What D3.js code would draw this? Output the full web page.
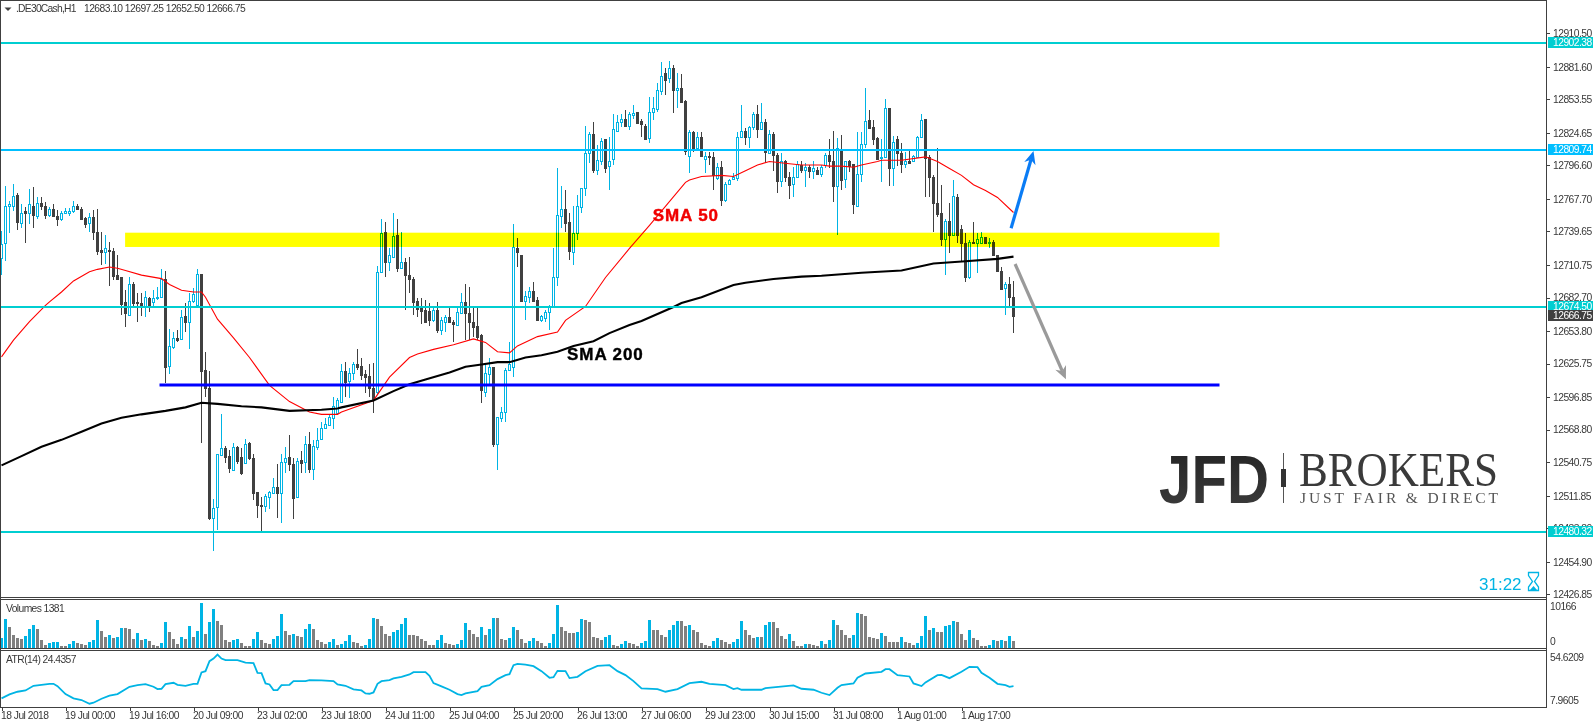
<!DOCTYPE html>
<html><head><meta charset="utf-8">
<style>html,body{margin:0;padding:0;background:#fff;overflow:hidden}svg{display:block;font-family:"Liberation Sans",Arial,sans-serif}</style>
<script src="https://cdn.jsdelivr.net/npm/d3@7/dist/d3.min.js"></script></head><body><svg id="c" width="1593" height="727"></svg>
<script>
const open_=[12717,12730,12762,12762,12771,12747,12757,12756,12762,12753,
12764,12762,12754,12759,12753,12750,12756,12756,12757,12762,
12759,12751,12747,12752,12739,12724,12722,12724,12723,12702,
12700,12679,12668,12694,12679,12678,12675,12682,12679,12682,
12683,12699,12624,12640,12648,12647,12667,12662,12680,12676,
12703,12620,12605,12493,12502,12547,12553,12546,12534,12554,
12545,12540,12557,12544,12515,12504,12503,12511,12514,12519,
12514,12541,12545,12539,12511,12543,12541,12556,12535,12554,
12561,12570,12573,12579,12583,12593,12619,12611,12618,12625,
12624,12617,12615,12605,12601,12705,12739,12713,12718,12737,
12708,12713,12702,12699,12680,12674,12672,12671,12663,12672,
12655,12662,12666,12662,12659,12669,12679,12669,12662,12658,
12650,12601,12617,12623,12556,12579,12584,12620,12623,12725,
12719,12680,12683,12688,12681,12663,12665,12670,12675,12700,
12753,12759,12748,12722,12738,12761,12777,12807,12824,12793,
12800,12819,12796,12802,12826,12834,12837,12831,12840,12843,
12835,12831,12820,12843,12845,12861,12876,12872,12881,12862,
12863,12852,12805,12825,12812,12821,12802,12805,12804,12786,
12795,12767,12781,12785,12786,12821,12826,12821,12830,12841,
12828,12834,12807,12824,12806,12783,12800,12787,12781,12787,
12797,12793,12795,12792,12793,12789,12797,12806,12800,12779,
12809,12785,12800,12798,12762,12789,12815,12836,12830,12820,
12803,12804,12846,12794,12819,12807,12798,12800,12800,12804,
12821,12837,12804,12787,12764,12756,12733,12749,12737,12769,
12742,12730,12700,12731,12730,12730,12735,12730,12731,12719,
12706,12691,12694,12683.1];
const high=[12740,12779,12766,12781,12773,12763,12761,12776,12778,12769,
12769,12765,12761,12763,12758,12757,12760,12760,12766,12763,
12761,12752,12756,12758,12759,12739,12737,12731,12725,12719,
12700,12689,12700,12696,12687,12687,12688,12683,12689,12692,
12707,12706,12656,12653,12655,12672,12678,12687,12691,12707,
12703,12636,12619,12509,12548,12582,12555,12551,12557,12555,
12553,12561,12558,12548,12515,12511,12513,12516,12527,12539,
12548,12554,12564,12544,12544,12550,12563,12567,12560,12570,
12575,12579,12581,12597,12596,12625,12627,12622,12627,12638,
12631,12620,12625,12626,12710,12750,12748,12725,12756,12750,
12739,12717,12718,12700,12682,12682,12681,12678,12674,12679,
12666,12668,12674,12663,12674,12687,12694,12692,12675,12674,
12651,12625,12631,12623,12580,12588,12622,12644,12746,12734,
12719,12688,12692,12696,12683,12668,12672,12676,12725,12794,
12779,12775,12756,12762,12771,12777,12831,12825,12834,12814,
12820,12819,12821,12841,12840,12841,12844,12843,12849,12843,
12837,12832,12856,12856,12868,12886,12881,12887,12883,12876,
12875,12853,12827,12826,12825,12825,12808,12808,12808,12799,
12800,12782,12785,12790,12825,12849,12829,12831,12843,12849,
12850,12837,12827,12825,12807,12807,12801,12791,12795,12800,
12800,12799,12797,12800,12795,12797,12807,12819,12826,12820,
12823,12800,12801,12798,12825,12825,12863,12844,12836,12821,
12819,12854,12846,12822,12822,12816,12808,12809,12806,12822,
12841,12837,12806,12788,12812,12780,12750,12764,12784,12772,
12745,12738,12732,12748,12738,12739,12735,12734,12732,12719,
12709,12696,12700,12697.25];
const low=[12702,12714,12738,12757,12741,12743,12730,12746,12743,12750,
12758,12750,12752,12752,12744,12749,12756,12753,12756,12758,
12750,12743,12739,12732,12719,12711,12712,12693,12698,12698,
12668,12657,12667,12674,12662,12667,12666,12670,12675,12681,
12682,12609,12617,12638,12644,12646,12653,12638,12678,12674,
12557,12597,12491,12464,12482,12547,12540,12531,12533,12539,
12530,12539,12543,12508,12493,12481,12498,12500,12513,12493,
12488,12531,12533,12492,12510,12531,12531,12531,12525,12551,
12560,12569,12572,12569,12581,12593,12597,12596,12612,12620,
12612,12600,12597,12583,12599,12705,12700,12706,12718,12705,
12707,12672,12687,12668,12666,12660,12662,12658,12662,12652,
12650,12653,12661,12644,12659,12669,12646,12646,12649,12646,
12592,12597,12606,12554,12534,12575,12575,12619,12614,12709,
12679,12663,12678,12679,12663,12662,12662,12655,12675,12693,
12743,12739,12715,12711,12732,12756,12770,12799,12790,12788,
12797,12790,12775,12797,12825,12830,12830,12827,12837,12832,
12821,12819,12816,12836,12843,12857,12857,12868,12842,12846,
12850,12806,12790,12808,12812,12805,12790,12797,12775,12784,
12762,12765,12781,12784,12783,12821,12814,12812,12827,12820,
12827,12799,12807,12792,12773,12778,12782,12768,12769,12786,
12790,12778,12786,12785,12788,12787,12794,12794,12765,12737,
12775,12777,12791,12755,12761,12782,12812,12829,12814,12801,
12782,12803,12779,12779,12796,12790,12794,12799,12800,12803,
12820,12769,12769,12739,12752,12727,12702,12721,12737,12730,
12713,12696,12699,12730,12704,12730,12730,12725,12719,12706,
12689,12668,12674,12652.5];
const close_=[12729,12762,12763,12770,12748,12756,12756,12763,12754,12764,
12762,12754,12759,12753,12750,12756,12757,12757,12762,12759,
12750,12746,12752,12739,12723,12722,12725,12723,12701,12699,
12677,12669,12694,12678,12678,12675,12683,12675,12682,12683,
12699,12623,12641,12648,12646,12666,12662,12680,12686,12703,
12619,12605,12493,12501,12548,12553,12545,12536,12554,12542,
12531,12556,12544,12514,12504,12503,12512,12515,12519,12514,
12541,12544,12539,12510,12542,12540,12556,12535,12555,12560,
12570,12574,12580,12589,12594,12619,12610,12618,12625,12623,
12616,12614,12605,12594,12705,12738,12713,12719,12736,12708,
12713,12702,12699,12679,12673,12671,12662,12663,12672,12655,
12663,12666,12662,12660,12670,12679,12669,12662,12657,12649,
12603,12618,12623,12556,12580,12584,12620,12625,12726,12722,
12680,12684,12688,12680,12663,12667,12670,12675,12700,12754,
12759,12747,12723,12738,12762,12777,12807,12824,12793,12801,
12818,12794,12800,12828,12834,12837,12831,12841,12842,12833,
12832,12819,12843,12846,12862,12874,12870,12881,12862,12863,
12851,12809,12825,12812,12821,12805,12805,12804,12788,12795,
12767,12781,12784,12787,12821,12826,12821,12830,12841,12828,
12834,12808,12824,12806,12783,12800,12787,12780,12787,12798,
12793,12795,12792,12794,12789,12795,12806,12800,12779,12812,
12784,12800,12796,12763,12789,12815,12835,12829,12819,12802,
12804,12846,12794,12817,12807,12798,12800,12799,12805,12821,
12836,12803,12787,12764,12755,12733,12749,12737,12770,12737,
12730,12700,12731,12730,12733,12735,12730,12731,12719,12706,
12690,12694,12683,12666.75];
const volumes=[2063,6494,4660,2827,2216,1910,2598,4202,5119,4202,1681,535,993,1222,1240,306,306,764,1452,993,764,535,1222,1681,6265,3744,2368,2827,2139,2368,4431,4431,4202,1910,3285,1681,1910,1452,535,306,993,5806,3514,1910,764,2368,1910,4890,2368,3744,10166,3056,5806,8786,6036,5119,1681,1222,1681,1910,993,306,306,1910,3514,1681,993,764,1910,2598,7640,3744,2827,3056,2598,2368,4202,5348,4202,1681,1222,764,1222,1910,535,
764,1452,2827,1222,993,306,535,1910,6723,6494,4890,3056,2598,3514,3973,5348,6723,2827,2827,2598,1910,1452,535,535,1681,2827,993,764,535,764,1681,5577,3973,3056,2368,4660,2827,4202,6723,6723,1910,1681,2139,4660,3973,
1910,993,1452,2139,1452,993,306,993,3056,9703,4660,3744,3285,3285,3514,6494,6265,5806,2368,2139,
1681,2368,2827,535,306,764,1452,993,764,306,993,1452,6265,3973,3973,2827,2368,3973,5119,6036,
6036,4890,5119,3973,3514,993,535,306,1452,2139,1681,1222,764,1222,1910,6036,3973,2827,2139,2368,
2368,5119,5806,5806,4431,2598,1910,3056,1452,306,306,764,764,535,306,1452,764,1681,6265,5119,
3973,2827,2139,2827,7869,7640,7182,2368,2139,1910,3285,2598,1222,1222,1222,2368,1222,993,535,993,
2598,7182,3973,4431,3514,3514,4890,5119,6036,5806,3056,1681,3973,2139,1681,306,306,535,1681,1452,
1681,1452,2598,1381];
const sma50Idx=[0,3,7,11,12,15,18,22,24,27,29,31,35,40,42,45,48,50,51,54,58,62,67,72,77,80,84,85,93,97,102,104,108,113,118,121,124,127,129,134,139,141,146,151,157,162,171,172,175,180,183,186,189,192,197,200,205,207,210,213,215,219,220,225,231,234,237,240,243,246,249,253];
const sma50=[12631.5,12646,12662,12676,12679,12687.5,12697,12705,12707,12709,12708,12706,12702,12699,12694,12689,12687.5,12687.5,12683,12664,12648,12631,12607,12593,12584,12582,12582,12584,12594,12614,12631,12634,12638,12642,12647,12644,12636,12635,12641,12649,12653,12663,12675,12700,12725,12745,12782,12784,12787,12788,12787,12792,12797,12800,12798,12797,12797,12796,12796,12795,12797,12800,12801,12801,12804,12800,12794,12788,12780,12775,12769,12756];
const sma200Idx=[0,5,10,15,20,25,30,35,41,46,50,54,60,65,72,80,84,85,93,98,102,106,112,116,120,124,127,131,135,139,143,148,152,157,160,168,170,175,183,186,193,200,205,215,225,233,241,249,253];
const sma200=[12538,12546,12554,12560,12567,12574,12579,12582,12585,12588,12592,12591,12589,12588,12585,12586,12587,12588,12594,12602,12608,12612,12618,12623,12625,12627,12627,12631,12633,12636,12641,12645,12652,12659,12662.5,12674.6,12678,12683,12693.5,12695.5,12698.7,12700.7,12701.5,12704,12706,12712,12714,12716,12718];
const atrIdx=[0,2,4,6,8,10,12,13,14,16,18,20,22,23,25,27,29,32,34,36,38,39,40,41,43,44,46,48,49,50,51,52,53,54,55,56,59,61,63,64,65,66,67,68,69,70,72,73,76,77,80,83,84,86,88,90,91,92,93,94,95,97,98,100,102,103,106,107,108,110,112,114,115,116,119,120,122,124,126,127,128,129,131,133,135,137,138,139,141,142,144,146,149,152,154,156,158,160,164,166,169,172,175,177,181,183,184,185,190,191,198,200,203,205,207,209,210,213,214,216,220,221,222,224,227,228,230,231,234,235,237,240,242,244,245,247,249,251,252,253];
const atr=[12.97,16.72,19.23,20.48,24.86,25.8,26.74,26.74,24.55,17.04,12.97,11.4,7.96,8.9,12.65,15.47,17.04,23.92,25.49,26.43,23.92,21.73,22.04,26.43,27.68,25.8,24.86,26.74,26.74,37.38,38.63,48.02,50.53,54.28,50.53,48.96,48.96,46.77,46.14,37.07,36.76,27.05,26.11,20.79,20.79,25.49,25.8,29.24,29.24,30.18,29.87,29.24,26.11,24.86,21.42,20.48,17.66,17.35,18.6,26.74,29.24,30.18,31.75,33.31,35.5,37.69,37.69,34.25,27.37,24.24,21.11,17.04,16.1,17.66,19.85,23.92,25.49,31.12,34.88,35.82,44.27,45.52,44.89,43.33,38.63,32.37,33,38.95,38.63,32.06,33.31,38.63,43.64,44.27,38.63,34.88,29.24,22.36,21.73,19.23,21.73,27.37,28.62,26.74,25.49,21.73,22.67,21.11,21.11,22.67,25.17,22.04,21.11,18.29,16.1,22.98,25.49,27.05,32.37,36.44,38,40.51,40.51,34.88,33.62,27.05,24.55,27.99,34.88,35.19,32.06,38,42.7,42.39,37.07,32.37,26.74,25.49,23.92,24.4357];
const priceTicks=[12910.50,12881.60,12853.55,12824.65,12796.60,12767.70,12739.65,12710.75,12682.70,12653.80,12625.75,12596.85,12568.80,12540.75,12511.85,12483.80,12454.90,12426.85];
const timeIdx=[0,16,32,48,64,80,96,112,128,144,160,176,192,208,224,240];
const timeLabels=["18 Jul 2018","19 Jul 00:00","19 Jul 16:00","20 Jul 09:00","23 Jul 02:00","23 Jul 18:00","24 Jul 11:00","25 Jul 04:00","25 Jul 20:00","26 Jul 13:00","27 Jul 06:00","29 Jul 23:00","30 Jul 15:00","31 Jul 08:00","1 Aug 01:00","1 Aug 17:00"];
const hLevels=[12902.38,12809.74,12674.50,12480.32];
const hColors=["#00ced1","#00bfff","#00ced1","#00ced1"];
const supportLevel=12607.4;
const supportIdx=[39.5,304.5];
const zoneBand=[12738.6,12726.3];
const zoneIdx=[30.9,304.5];
const lastPrice=12666.75;
const bullArrow=[[252.4,12742.4],[258,12809]];
const bearArrow=[[253.4,12711.6],[266.1,12612.2]];
const smaNotes=[["SMA 50",162.8,12749],["SMA 200",141.4,12629]];

[open_,high,low,close_,volumes].forEach(a=>{if(a.length!==254)throw new Error("len "+a.length)});
if(atr.length!==atrIdx.length||sma50.length!==sma50Idx.length||sma200.length!==sma200Idx.length)throw new Error("line len");

const DARK="#404040",BLUE="#00b4e4",TXT="#383838";
const svg=d3.select("#c");
const x=d3.scaleLinear().domain([0,253]).range([1.5,1013.5]);
const py=d3.scaleLinear().domain([12910.5,12426.85]).range([33.3,594.3]);
const vy=d3.scaleLinear().domain([0,10166]).range([647.5,603]);
const ay=d3.scaleLinear().domain([54.6209,7.9605]).range([654.2,703.7]);
const R=Math.round, idx=d3.range(254);
const col=i=>Math.floor(x(i));

// candles
const g=svg.append("g");
const isUp=i=>close_[i]>open_[i];
g.selectAll("rect.w").data(idx).join("rect").attr("class","w")
 .attr("x",col).attr("width",1).attr("y",i=>R(py(high[i]))).attr("height",i=>Math.max(1,R(py(low[i]))-R(py(high[i]))))
 .attr("fill",i=>isUp(i)?BLUE:DARK);
g.selectAll("rect.b").data(idx).join("rect").attr("class","b")
 .attr("x",i=>isUp(i)?col(i)-0.5:col(i)-1)
 .attr("width",i=>isUp(i)?2:3)
 .attr("y",i=>{const t=R(py(Math.max(open_[i],close_[i])));return isUp(i)?t+0.5:t})
 .attr("height",i=>{const t=R(py(Math.max(open_[i],close_[i]))),b=R(py(Math.min(open_[i],close_[i])));return isUp(i)?Math.max(1,b-t):Math.max(1,b-t+1)})
 .attr("fill",i=>isUp(i)?"#fff":DARK)
 .attr("stroke",i=>isUp(i)?BLUE:"none");

// moving averages
const line=d3.line();
svg.append("path").attr("d",line(sma50Idx.map((k,j)=>[x(k),py(sma50[j])]))).attr("fill","none").attr("stroke","#f00").attr("stroke-width",1.1);
svg.append("path").attr("d",line(sma200Idx.map((k,j)=>[x(k),py(sma200[j])]))).attr("fill","none").attr("stroke","#000").attr("stroke-width",2.1);

// levels
hLevels.forEach((v,k)=>{svg.append("rect").attr("x",1).attr("width",1545).attr("y",R(py(v))-1).attr("height",2).attr("fill",hColors[k]);});
svg.append("rect").attr("x",x(supportIdx[0])).attr("width",x(supportIdx[1])-x(supportIdx[0])).attr("y",R(py(supportLevel))-1.5).attr("height",3).attr("fill","#0000ff");
svg.append("rect").attr("x",x(zoneIdx[0])).attr("width",x(zoneIdx[1])-x(zoneIdx[0])).attr("y",py(zoneBand[0])).attr("height",py(zoneBand[1])-py(zoneBand[0])).attr("fill","#ffff00").style("mix-blend-mode","multiply");

// arrows
function arrow(pts,color,w,hl){
 const [a,b]=pts, x1=x(a[0]),y1=py(a[1]),x2=x(b[0]),y2=py(b[1]);
 const ang=Math.atan2(y2-y1,x2-x1),hw=hl*0.45;
 const bx=x2-Math.cos(ang)*hl,by=y2-Math.sin(ang)*hl;
 const nx=x2-Math.cos(ang)*hl*0.7,ny=y2-Math.sin(ang)*hl*0.7;
 svg.append("path").attr("d",line([[x1,y1],[nx,ny]])).attr("stroke",color).attr("stroke-width",w).attr("fill","none");
 svg.append("path").attr("d",line([[x2,y2],[bx-Math.sin(ang)*hw,by+Math.cos(ang)*hw],[nx,ny],[bx+Math.sin(ang)*hw,by-Math.cos(ang)*hw]])+"Z").attr("fill",color);
}
arrow(bullArrow,"#0a7cf5",3.2,13);
arrow(bearArrow,"#9a9a9a",3.2,13);

// annotations
const noteColors=["#f00000","#000"];
svg.selectAll("text.note").data(smaNotes).join("text").attr("class","note")
 .attr("x",d=>x(d[1])).attr("y",d=>py(d[2]))
 .attr("font-weight","bold").attr("font-size",17).attr("letter-spacing",0.9)
 .attr("fill",(d,i)=>noteColors[i]).attr("stroke",(d,i)=>noteColors[i]).attr("stroke-width",0.4).text(d=>d[0]);

// volumes
svg.selectAll("rect.v").data(idx).join("rect").attr("class","v")
 .attr("x",i=>col(i)-1).attr("width",3).attr("y",i=>R(vy(volumes[i]))).attr("height",i=>R(vy(0))-R(vy(volumes[i])))
 .attr("fill",i=>(i===0||volumes[i]>volumes[i-1])?BLUE:"#808080");
// ATR
svg.append("path").attr("d",line(atrIdx.map((k,j)=>[x(k),ay(atr[j])]))).attr("fill","none").attr("stroke",BLUE).attr("stroke-width",1.8);

// frame
const frame=[[0,0,1547,1],[0,0,1,708],[1546,0,1,708],[0,597,1547,1],[0,599,1547,1],[0,648,1547,1],[0,650,1547,1],[0,707,1547,1]];
frame.forEach(f=>svg.append("rect").attr("x",f[0]).attr("y",f[1]).attr("width",f[2]).attr("height",f[3]).attr("fill",DARK));

// axes
const FS=10.3, LS=-0.52;
const ax=svg.append("g").attr("transform","translate(1547,0)")
 .call(d3.axisRight(py).tickValues(priceTicks).tickFormat(d3.format(".2f")).tickSize(3).tickPadding(3));
ax.select(".domain").remove();
ax.selectAll("line").attr("stroke",DARK).attr("shape-rendering","crispEdges");
const bx=svg.append("g").attr("transform","translate(0,707.5)")
 .call(d3.axisBottom(x).tickValues(timeIdx).tickFormat((d,i)=>timeLabels[i]).tickSize(3).tickPadding(0));
bx.select(".domain").remove();
bx.selectAll("line").attr("stroke",DARK).attr("shape-rendering","crispEdges");
bx.selectAll("text").attr("text-anchor","start").attr("dx",-1).attr("y",4).attr("dy","0.71em");
svg.selectAll(".tick text").attr("font-family",'"Liberation Sans",Arial,sans-serif').attr("font-size",FS).attr("letter-spacing",LS).attr("fill",TXT);

function txt(xp,yp,s,o={}){return svg.append("text").attr("x",xp).attr("y",yp).attr("font-size",o.size||FS).attr("letter-spacing",o.ls===undefined?LS:o.ls).attr("fill",o.fill||TXT).attr("dominant-baseline","middle").text(s);}
// price boxes
const boxes=[[hLevels[0],hColors[0]],[hLevels[1],hColors[1]],[hLevels[2],hColors[2]],[hLevels[3],hColors[3]],[lastPrice,DARK]];
boxes.forEach(b=>{
 const yc=R(py(b[0]));
 svg.append("rect").attr("x",1548).attr("y",yc-6).attr("width",45).attr("height",11).attr("fill",b[1]);
 txt(1553,yc,d3.format(".2f")(b[0]),{fill:"#fff"});
});
// header
svg.append("path").attr("d","M4.5 7.5H11.5L8 11Z").attr("fill",DARK);
txt(16,9,".DE30Cash,H1",{ls:-0.75});
txt(84,9,d3.format(".2f")(12683.10)+" "+d3.format(".2f")(high[253])+" "+d3.format(".2f")(low[253])+" "+d3.format(".2f")(close_[253]),{ls:-0.55});
txt(6,609,"Volumes "+d3.format("d")(volumes[253]),{ls:-0.6});
txt(6,660,"ATR(14) 24.4357",{ls:-0.55});
txt(1550,607,"10166",{});
txt(1550,642,"0",{});
txt(1550,658,"54.6209",{});
txt(1550,701,"7.9605",{});

// timer
svg.append("text").attr("x",1479).attr("y",590).attr("font-size",17).attr("letter-spacing",0).attr("fill","#00b4e4").text("31:22");
svg.append("path").attr("d","M1528.5 572.5H1538.5V575.5L1534.5 581.5L1538.5 587V590.5H1528.5V587L1532.5 581.5L1528.5 575.5Z").attr("fill","none").attr("stroke","#00b4e4").attr("stroke-width",1.3);
svg.append("path").attr("d","M1530 590L1533.5 586L1537 590Z").attr("fill","#00b4e4");

// logo
const defs=svg.append("defs").append("linearGradient").attr("id","lg").attr("x1",0).attr("x2",0).attr("y1",0).attr("y2",1);
defs.append("stop").attr("offset",0).attr("stop-color","#222");defs.append("stop").attr("offset",1).attr("stop-color","#3e3e3e");
svg.append("text").attr("x",1159).attr("y",503).attr("font-size",69).attr("font-weight","bold").attr("textLength",110).attr("lengthAdjust","spacingAndGlyphs").attr("fill","url(#lg)").text("JFD");
svg.append("rect").attr("x",1283).attr("y",453).attr("width",1).attr("height",50).attr("fill","#555");
svg.append("rect").attr("x",1281).attr("y",469).attr("width",5).attr("height",18).attr("fill","#333");
svg.append("text").attr("x",1299).attr("y",486).attr("font-size",48).attr("font-family","Liberation Serif").attr("textLength",199).attr("lengthAdjust","spacingAndGlyphs").attr("fill","#3a3a3a").text("BROKERS");
svg.append("text").attr("x",1300).attr("y",503).attr("font-size",15.5).attr("font-family","Liberation Serif").attr("textLength",198).attr("fill","#555").text("JUST FAIR & DIRECT");
</script></body></html>
